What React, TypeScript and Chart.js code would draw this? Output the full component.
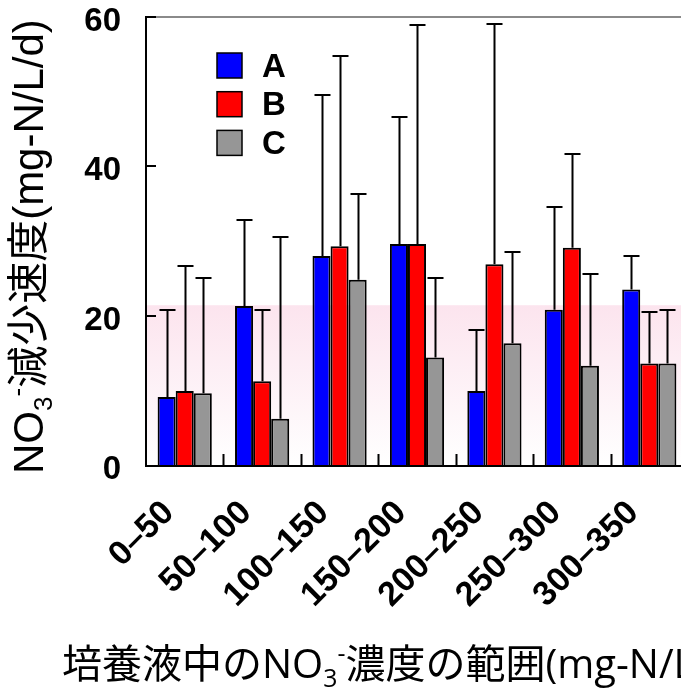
import React, { useEffect, useRef } from 'react';
import { Chart, registerables } from 'chart.js';

Chart.register(...registerables);

const categories = ['0–50', '50–100', '100–150', '150–200', '200–250', '250–300', '300–350'];
const seriesNames = ['A', 'B', 'C'];
const seriesColors = ['#0000ff', '#ff0000', '#969696'];
const valuesA = [9.1, 21.3, 28.0, 29.6, 9.9, 20.8, 23.5];
const valuesB = [9.9, 11.2, 29.3, 29.6, 26.9, 29.1, 13.6];
const valuesC = [9.6, 6.2, 24.8, 14.4, 16.3, 13.3, 13.6];
const errorsA = [11.7, 11.5, 21.6, 17.0, 8.2, 13.8, 4.5];
const errorsB = [16.8, 9.6, 25.5, 29.3, 32.1, 12.5, 6.9];
const errorsC = [15.5, 24.4, 11.5, 10.7, 12.2, 12.3, 7.1];
const yMin = 0;
const yMax = 60;
const yStep = 20;
const bandTop = 21.4;

type Part = { text: string; shift?: 'sub' | 'sup' };
const yTitleParts: Part[] = [
  { text: 'NO' },
  { text: '3', shift: 'sub' },
  { text: '-', shift: 'sup' },
  { text: '減少速度(mg-N/L/d)' },
];
const xTitleParts: Part[] = [
  { text: '培養液中のNO' },
  { text: '3', shift: 'sub' },
  { text: '-', shift: 'sup' },
  { text: '濃度の範囲(mg-N/L)' },
];

const W = 700;
const H = 690;

function drawRich(ctx: CanvasRenderingContext2D, parts: Part[], x: number, y: number, size: number, family: string) {
  let cx = x;
  ctx.textBaseline = 'alphabetic';
  ctx.textAlign = 'left';
  for (const p of parts) {
    const s = p.shift ? size * 0.62 : size;
    ctx.font = `${s}px ${family}`;
    const dy = p.shift === 'sub' ? size * 0.22 : p.shift === 'sup' ? -size * 0.4 : 0;
    ctx.fillText(p.text, cx, y + dy);
    cx += ctx.measureText(p.text).width;
  }
}

const errorSets = [errorsA, errorsB, errorsC];

const decorPlugin = {
  id: 'decor',
  beforeDatasetsDraw(chart: any) {
    const { ctx, chartArea } = chart;
    const y = chart.scales.y;
    const top = y.getPixelForValue(bandTop);
    const bottom = y.getPixelForValue(0);
    const g = ctx.createLinearGradient(0, top, 0, bottom);
    g.addColorStop(0, '#fce4ee');
    g.addColorStop(1, '#ffffff');
    ctx.save();
    ctx.fillStyle = g;
    ctx.fillRect(chartArea.left, top, chartArea.right - chartArea.left + 20, bottom - top);
    ctx.restore();
  },
  afterDatasetsDraw(chart: any) {
    const { ctx, chartArea } = chart;
    const ys = chart.scales.y;
    const xs = chart.scales.x;
    ctx.save();
    // error bars
    ctx.strokeStyle = '#000';
    ctx.lineWidth = 2;
    chart.data.datasets.forEach((ds: any, di: number) => {
      const meta = chart.getDatasetMeta(di);
      meta.data.forEach((el: any, i: number) => {
        const v = ds.data[i];
        const e = errorSets[di][i];
        const x = Math.round(el.x) + 0.5;
        const y0 = ys.getPixelForValue(v);
        const y1 = Math.round(ys.getPixelForValue(v + e));
        ctx.beginPath();
        ctx.moveTo(x, y0);
        ctx.lineTo(x, y1);
        ctx.moveTo(x - 8, y1);
        ctx.lineTo(x + 8, y1);
        ctx.stroke();
      });
    });
    // top grey line
    ctx.strokeStyle = '#8a8a8a';
    ctx.lineWidth = 2;
    ctx.beginPath();
    ctx.moveTo(chartArea.left, chartArea.top);
    ctx.lineTo(chartArea.right + 20, chartArea.top);
    ctx.stroke();
    // axes
    ctx.strokeStyle = '#000';
    ctx.lineWidth = 2;
    ctx.beginPath();
    ctx.moveTo(chartArea.left, chartArea.top - 1);
    ctx.lineTo(chartArea.left, chartArea.bottom + 1);
    ctx.lineTo(chartArea.right + 20, chartArea.bottom + 1);
    ctx.stroke();
    // y ticks inside
    ctx.beginPath();
    for (let v = yMin + yStep; v <= yMax; v += yStep) {
      const py = Math.round(ys.getPixelForValue(v));
      ctx.moveTo(chartArea.left, py);
      ctx.lineTo(chartArea.left + 10, py);
    }
    // x ticks inside (between categories)
    for (let i = 1; i < categories.length; i++) {
      const px = Math.round((xs.getPixelForTick(i - 1) + xs.getPixelForTick(i)) / 2) + 0.5;
      ctx.moveTo(px, chartArea.bottom);
      ctx.lineTo(px, chartArea.bottom - 11);
    }
    ctx.stroke();
    ctx.restore();
  },
  afterDraw(chart: any) {
    const { ctx } = chart;
    ctx.save();
    // legend
    const boxX = 217;
    const box = 25;
    chart.data.datasets.forEach((ds: any, i: number) => {
      const top = 53 + i * 38.7;
      ctx.fillStyle = ds.backgroundColor;
      ctx.fillRect(boxX, top, box, box);
      ctx.strokeStyle = '#000';
      ctx.lineWidth = 1.5;
      ctx.strokeRect(boxX, top, box, box);
      ctx.fillStyle = '#000';
      ctx.font = 'bold 33px "Liberation Sans", Arial, sans-serif';
      ctx.textBaseline = 'middle';
      ctx.textAlign = 'left';
      ctx.fillText(ds.label, 262, top + box / 2 + 2);
    });
    // axis titles
    ctx.fillStyle = '#000';
    ctx.save();
    ctx.translate(43, 474);
    ctx.rotate(-Math.PI / 2);
    drawRich(ctx, yTitleParts, 0, 0, 42, '"Liberation Sans", "Noto Sans CJK JP", sans-serif');
    ctx.restore();
    drawRich(ctx, xTitleParts, 62, 678, 40, '"Open Sans", "Noto Sans CJK JP", sans-serif');
    ctx.restore();
  },
};

export default function App() {
  const ref = useRef<HTMLCanvasElement>(null);
  useEffect(() => {
    const canvas = ref.current!;
    const chart = new Chart(canvas, {
      type: 'bar',
      data: {
        labels: categories,
        datasets: [valuesA, valuesB, valuesC].map((d, i) => ({
          label: seriesNames[i],
          data: d,
          backgroundColor: seriesColors[i],
          borderColor: '#000',
          borderWidth: 2,
          categoryPercentage: 0.7,
          barPercentage: 1.0,
        })),
      },
      options: {
        responsive: false,
        animation: false,
        devicePixelRatio: 1,
        layout: { padding: { top: 17, right: 12, left: 0, bottom: 0 } },
        plugins: { legend: { display: false }, tooltip: { enabled: false } },
        scales: {
          x: {
            grid: { display: false, drawTicks: false },
            border: { display: false },
            ticks: {
              autoSkip: false,
              maxRotation: 45,
              minRotation: 45,
              padding: 28,
              labelOffset: -16,
              color: '#000',
              font: { family: '"Liberation Sans", Arial, sans-serif', size: 34, weight: 'bold' },
            },
            afterFit: (s: any) => {
              s.height = 225;
              s.paddingLeft = 0;
              s.paddingRight = 0;
            },
          },
          y: {
            min: yMin,
            max: yMax,
            grid: { display: false, drawTicks: false },
            border: { display: false },
            ticks: {
              stepSize: yStep,
              padding: 25,
              labelOffset: 5,
              color: '#000',
              font: { family: '"Liberation Sans", Arial, sans-serif', size: 33, weight: 'bold' },
            },
            afterFit: (s: any) => {
              s.width = 146;
              s.paddingTop = 0;
              s.paddingBottom = 0;
            },
          },
        },
      },
      plugins: [decorPlugin],
    } as any);
    return () => chart.destroy();
  }, []);
  return (
    <div style={{ position: 'absolute', left: 0, top: 0, width: W, height: H, overflow: 'hidden' }}>
      <canvas ref={ref} width={W} height={H} style={{ width: W, height: H, display: 'block' }} />
    </div>
  );
}
